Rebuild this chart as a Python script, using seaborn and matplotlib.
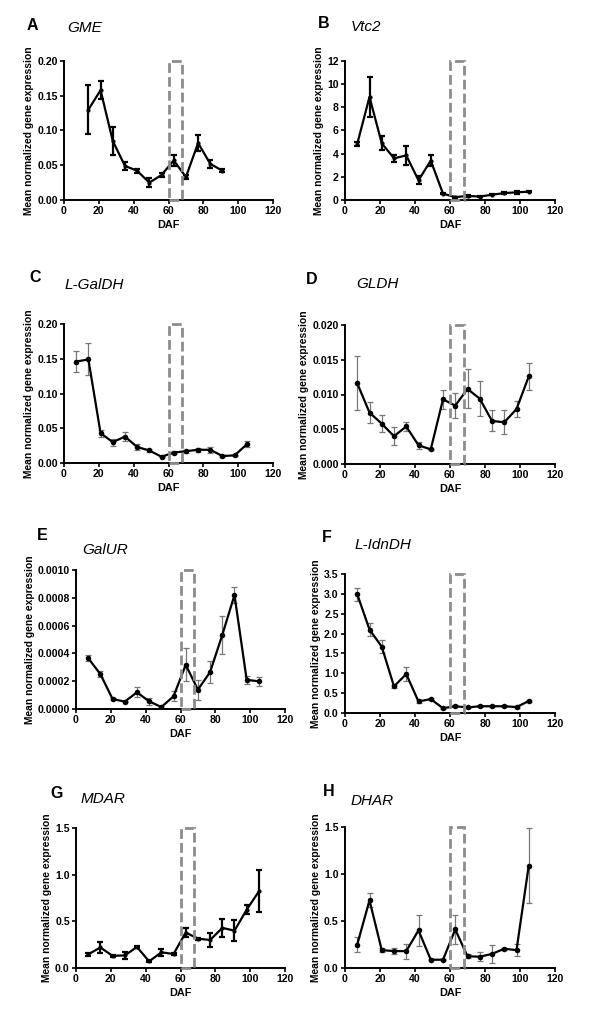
import numpy as np
import pandas as pd
import seaborn as sns
import matplotlib.pyplot as plt
from matplotlib.patches import Rectangle

# days after flowering (sampling every 7 days)
daf = [7, 14, 21, 28, 35, 42, 49, 56, 63, 70, 77, 84, 91, 98, 105]
daf_gme = daf[1:13]  # GME measured 14..91 only

gme = [0.130, 0.158, 0.085, 0.049, 0.042, 0.025, 0.036, 0.057, 0.033, 0.082, 0.052, 0.042]
gme_err = [0.035, 0.013, 0.020, 0.006, 0.003, 0.007, 0.003, 0.008, 0.003, 0.012, 0.006, 0.002]

vtc2 = [4.85, 8.9, 4.9, 3.6, 3.85, 1.7, 3.4, 0.55, 0.25, 0.35, 0.3, 0.45, 0.6, 0.66, 0.72]
vtc2_err = [0.15, 1.7, 0.6, 0.3, 0.85, 0.35, 0.45, 0.05, 0.05, 0.05, 0.05, 0.05, 0.1, 0.1, 0.05]

galdh = [0.146, 0.149, 0.043, 0.030, 0.038, 0.023, 0.018, 0.009, 0.015, 0.017, 0.019, 0.019, 0.010, 0.011, 0.027]
galdh_err = [0.015, 0.023, 0.005, 0.005, 0.006, 0.005, 0.002, 0.001, 0.002, 0.002, 0.003, 0.004, 0.001, 0.001, 0.004]

gldh = [0.0116, 0.0074, 0.0058, 0.0040, 0.0054, 0.0027, 0.0021, 0.0093, 0.0084, 0.0108, 0.0094, 0.0062, 0.0060, 0.0079, 0.0126]
gldh_err = [0.0039, 0.0015, 0.0012, 0.0013, 0.0007, 0.0005, 0.0001, 0.0014, 0.0018, 0.0028, 0.0025, 0.0015, 0.0017, 0.0012, 0.0019]

galur = [0.000366, 0.000251, 0.000072, 0.000053, 0.00012, 0.000055, 0.000014, 0.000091, 0.000318, 0.000139, 0.000266, 0.000533, 0.00082, 0.00021, 0.000199]
galur_err = [0.000024, 0.000024, 0.000008, 0.000006, 0.000036, 0.000024, 0.000005, 0.000037, 0.000118, 0.000072, 0.000079, 0.000138, 0.00006, 0.000027, 0.000032]

idndh = [2.99, 2.10, 1.67, 0.67, 0.98, 0.29, 0.35, 0.12, 0.17, 0.14, 0.17, 0.17, 0.17, 0.15, 0.30]
idndh_err = [0.17, 0.17, 0.16, 0.04, 0.18, 0.03, 0.03, 0.02, 0.02, 0.02, 0.02, 0.02, 0.02, 0.02, 0.03]

mdar = [0.146, 0.22, 0.13, 0.135, 0.225, 0.071, 0.168, 0.15, 0.38, 0.315, 0.30, 0.43, 0.40, 0.625, 0.82]
mdar_err = [0.02, 0.06, 0.01, 0.04, 0.015, 0.01, 0.04, 0.01, 0.05, 0.01, 0.075, 0.1, 0.11, 0.05, 0.225]

dhar = [0.25, 0.72, 0.19, 0.18, 0.18, 0.40, 0.088, 0.088, 0.41, 0.125, 0.12, 0.15, 0.205, 0.19, 1.09]
dhar_err = [0.075, 0.075, 0.02, 0.03, 0.08, 0.165, 0.005, 0.005, 0.15, 0.02, 0.05, 0.1, 0.01, 0.065, 0.40]

# highlighted window (DAF)
window = (60, 68)

sns.set_style("ticks", {"axes.edgecolor": "black", "text.color": "black",
                        "axes.labelcolor": "black", "xtick.color": "black",
                        "ytick.color": "black"})
plt.rcParams['font.family'] = ['Liberation Sans', 'DejaVu Sans']

W, H = 600, 1025
fig = plt.figure(figsize=(6, 10.25), dpi=100)


def px_axes(x0, x1, y0, y1):
    return fig.add_axes([x0 / W, 1 - y1 / H, (x1 - x0) / W, (y1 - y0) / H])


# letter, gene, x, y, err, ymax, yticks, fmt, axes box (px), black errorbars?, letter pos, title pos
panels = [
    ("A", "GME", daf_gme, gme, gme_err, 0.20, np.linspace(0, 0.20, 5), "{:.2f}", (64, 273, 61, 200), True, (27, 25), (67, 28)),
    ("B", "Vtc2", daf, vtc2, vtc2_err, 12, np.arange(0, 13, 2), "{:.0f}", (345, 555, 61, 200), True, (318, 23), (351, 27)),
    ("C", "L-GalDH", daf, galdh, galdh_err, 0.20, np.linspace(0, 0.20, 5), "{:.2f}", (64, 273, 324, 463), False, (29, 278), (65, 285)),
    ("D", "GLDH", daf, gldh, gldh_err, 0.020, np.linspace(0, 0.020, 5), "{:.3f}", (345, 555, 325, 464), False, (306, 280), (356, 284)),
    ("E", "GalUR", daf, galur, galur_err, 0.0010, np.linspace(0, 0.0010, 6), "{:.4f}", (76, 285, 570, 709), False, (37, 535), (82, 550)),
    ("F", "L-IdnDH", daf, idndh, idndh_err, 3.5, np.arange(0, 3.6, 0.5), "{:.1f}", (345, 555, 574, 713), False, (322, 537), (355, 545)),
    ("G", "MDAR", daf, mdar, mdar_err, 1.5, np.arange(0, 1.6, 0.5), "{:.1f}", (76, 285, 828, 968), True, (50, 793), (81, 799)),
    ("H", "DHAR", daf, dhar, dhar_err, 1.5, np.arange(0, 1.6, 0.5), "{:.1f}", (345, 555, 827, 968), False, (323, 791), (351, 801)),
]

for letter, gene, x, y, err, ymax, yt, fmt, box, black_err, lpos, tpos in panels:
    ax = px_axes(*box)
    df = pd.DataFrame({"DAF": x, "expr": y, "err": err})
    ecol = "black" if black_err else "#777777"
    ax.errorbar(df["DAF"], df["expr"], yerr=df["err"], fmt="none", ecolor=ecol,
                elinewidth=1.6 if black_err else 0.9, capsize=2.5,
                capthick=1.6 if black_err else 0.9, zorder=2)
    sns.lineplot(data=df, x="DAF", y="expr", ax=ax, color="black", linewidth=1.6,
                 marker="o", markersize=3 if black_err else 4, markeredgewidth=0, zorder=3)
    ax.add_patch(Rectangle((window[0], 0), window[1] - window[0], ymax, fill=False,
                           edgecolor="#8c8c8c", linewidth=2, linestyle=(0, (3.5, 1.5)),
                           clip_on=False, zorder=4))
    ax.set_xlim(0, 120)
    ax.set_ylim(0, ymax)
    ax.set_xticks(np.arange(0, 121, 20))
    ax.set_yticks(yt)
    ax.set_yticklabels([fmt.format(v) for v in yt])
    ax.set_xlabel("DAF", fontsize=7.8, fontweight="bold", labelpad=3)
    ax.set_ylabel("Mean normalized gene expression", fontsize=7.4, fontweight="bold", labelpad=2)
    ax.tick_params(labelsize=7.6, length=3, width=1.2, pad=1.5)
    for lab in ax.get_xticklabels() + ax.get_yticklabels():
        lab.set_fontweight("bold")
    sns.despine(ax=ax)
    for s in ("left", "bottom"):
        ax.spines[s].set_linewidth(1.4)
    fig.text(lpos[0] / W, 1 - lpos[1] / H, letter, fontsize=11.5, fontweight="bold",
             ha="left", va="center")
    fig.text(tpos[0] / W, 1 - tpos[1] / H, gene, fontsize=11, fontstyle="italic",
             ha="left", va="center")

fig.savefig("out.png", dpi=100)
